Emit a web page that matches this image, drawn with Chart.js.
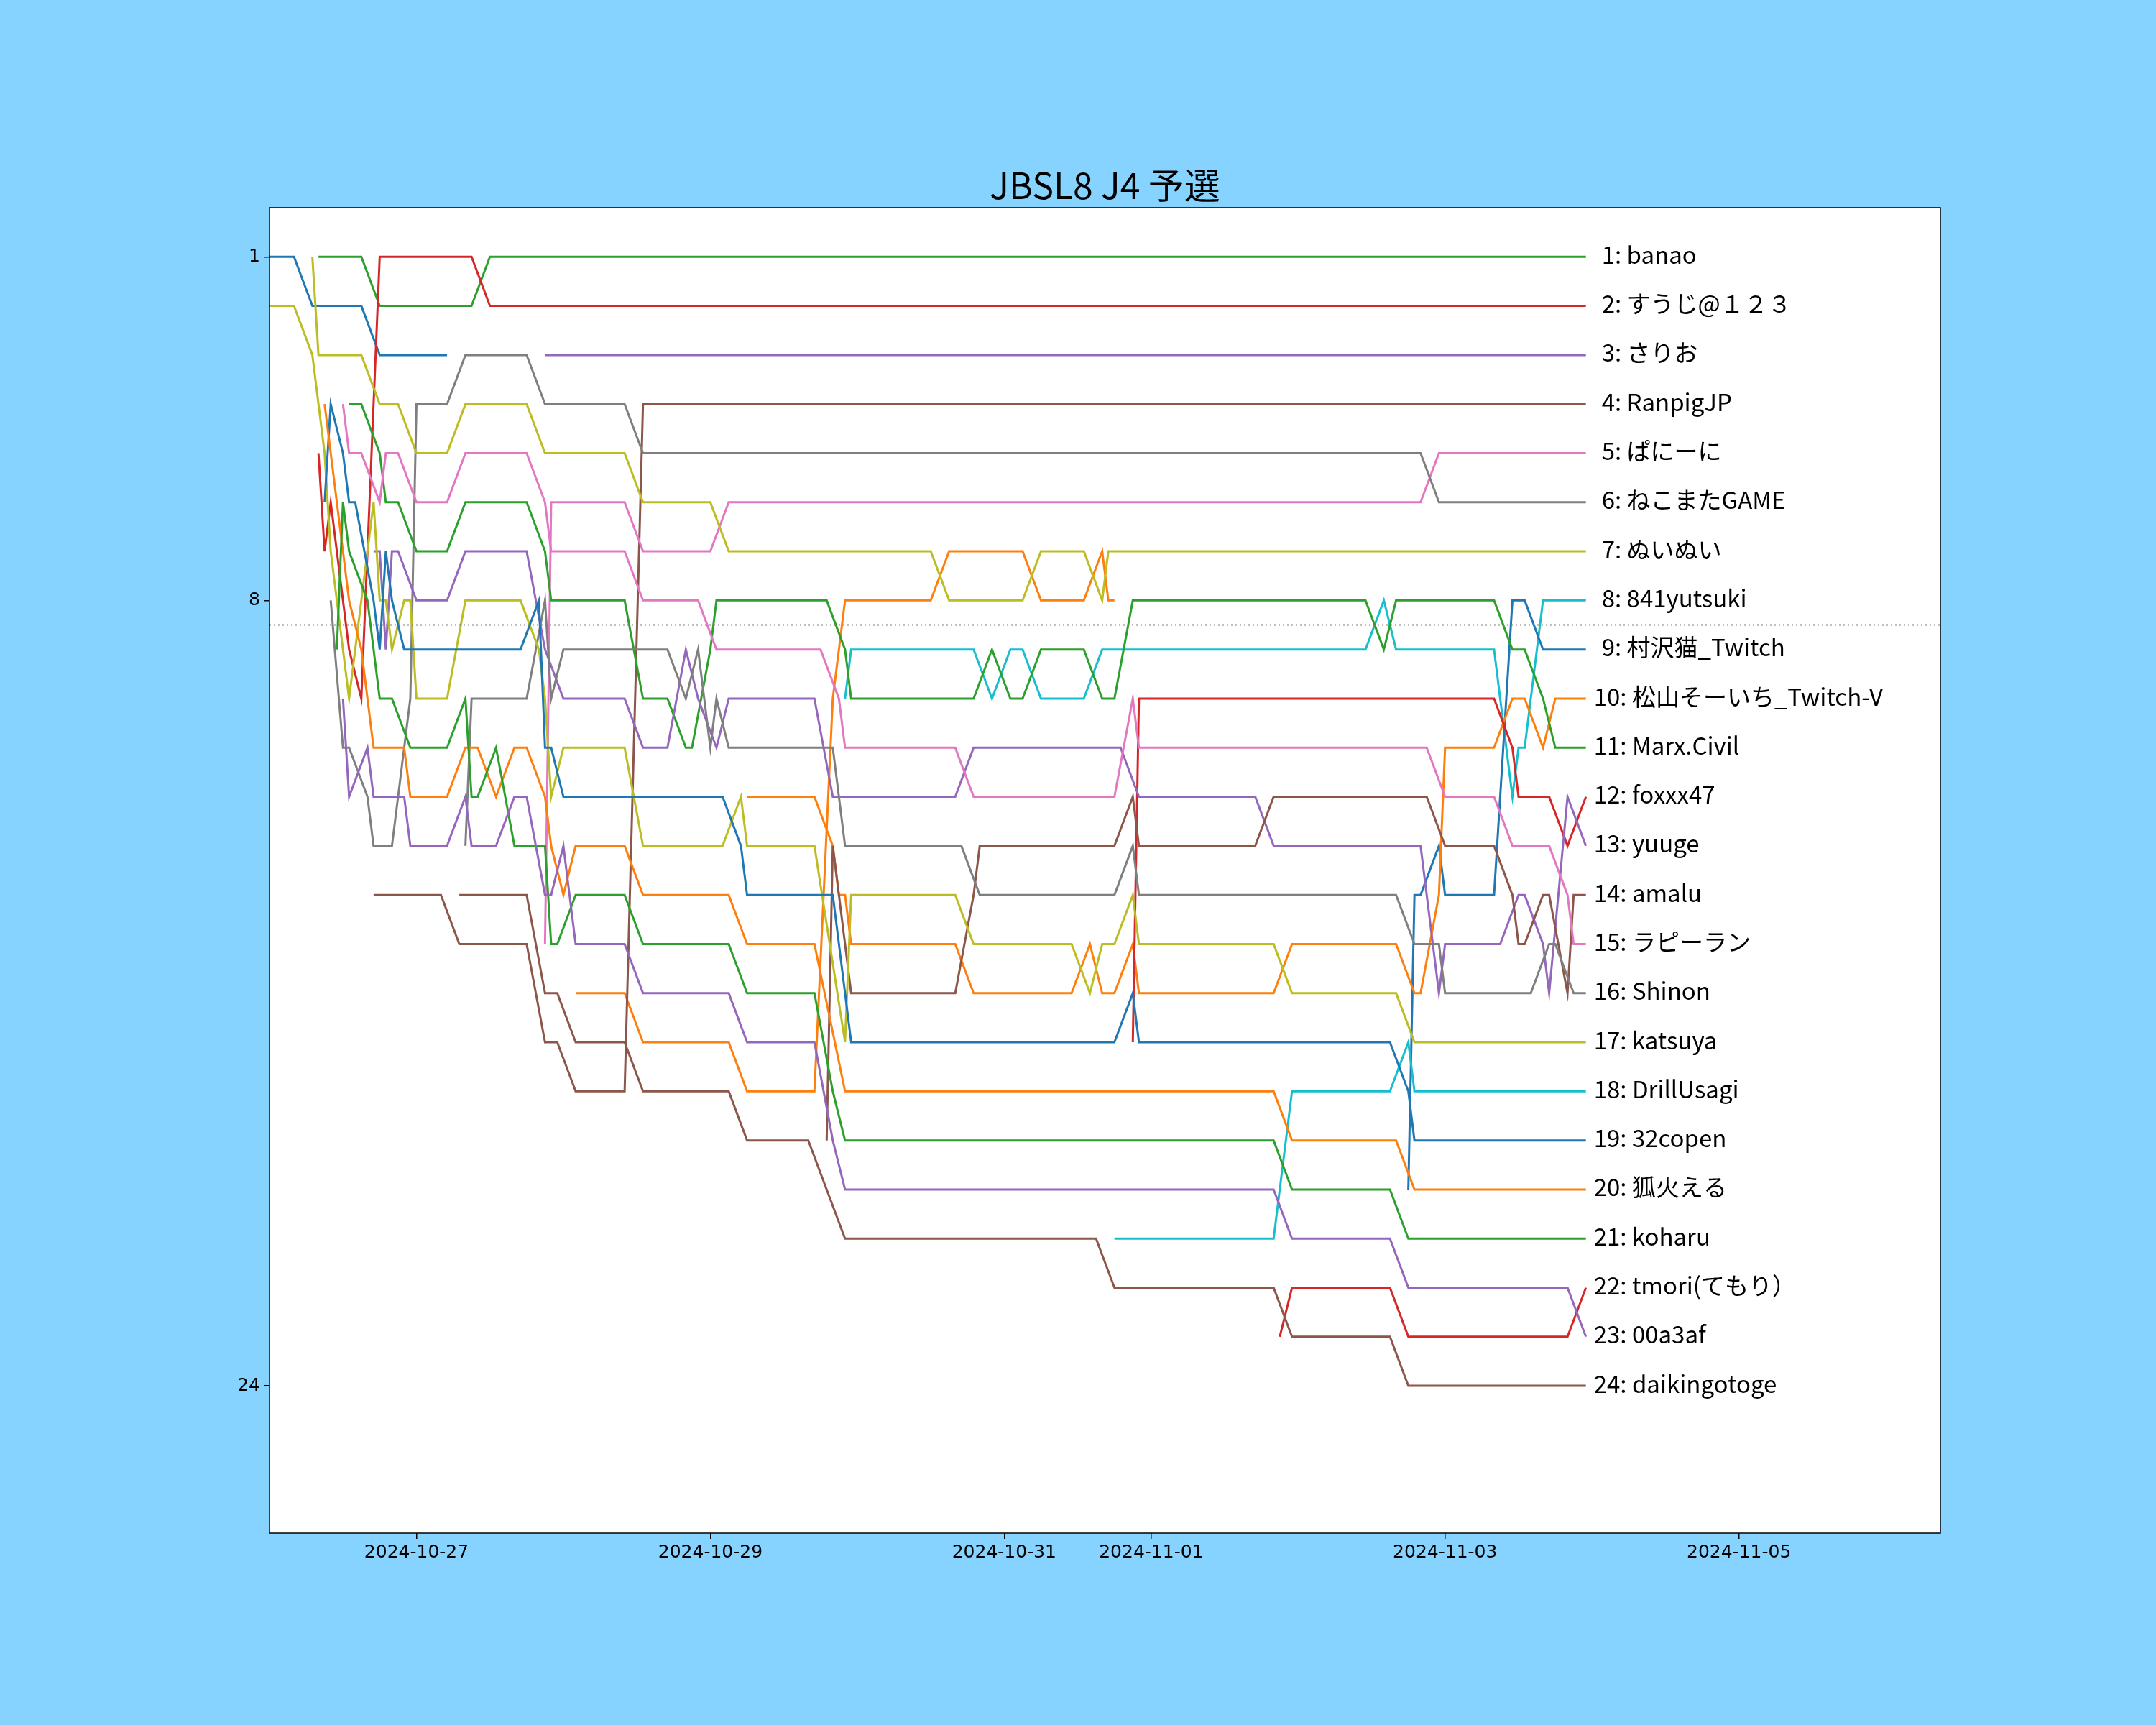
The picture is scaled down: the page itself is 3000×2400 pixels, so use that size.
<!DOCTYPE html>
<html>
<head>
<meta charset="utf-8">
<title>JBSL8 J4 予選</title>
<script src="https://cdn.jsdelivr.net/npm/chart.js@4.4.1/dist/chart.umd.min.js"></script>
<style>
  html, body { margin: 0; padding: 0; background: #87d3ff; }
  canvas { display: block; }
</style>
</head>
<body>
<canvas id="rank-chart" width="3000" height="2400"></canvas>
<script>
// Ranking over time, x = hours since 2024-10-26 00:00, y = rank
const title = 'JBSL8 J4 予選';
const lastHour = 215;
const cutRank = 8.5;
const tickHours = [24, 72, 120, 144, 192, 240];
const tickLabels = ['2024-10-27', '2024-10-29', '2024-10-31', '2024-11-01', '2024-11-03', '2024-11-05'];
const rankTicks = [1, 8, 24];

const names = [
  'banao', 'すうじ@１２３', 'さりお', 'RanpigJP', 'ぱにーに', 'ねこまたGAME',
  'ぬいぬい', '841yutsuki', '村沢猫_Twitch', '松山そーいち_Twitch-V', 'Marx.Civil', 'foxxx47',
  'yuuge', 'amalu', 'ラピーラン', 'Shinon', 'katsuya', 'DrillUsagi',
  '32copen', '狐火える', 'koharu', 'tmori(てもり）', '00a3af', 'daikingotoge'
];

// two entries that dropped out (drawn first, no label)
const dropA = [[0,1],[4,1],[7,2],[15,2],[18,3],[29,3]];
const dropB = [[50,16],[58,16],[61,17],[75,17],[78,18],[89,18],[92,10],[94,8],[108,8],[111,7],[123,7],[126,8],[133,8],[136,7],[137,8],[138,8]];

const p01 = [[8,1],[15,1],[18,2],[33,2],[36,1],[215,1]];
const p02 = [[8,5],[9,7],[10,6],[13,9],[15,10],[18,1],[33,1],[36,2],[215,2]];
const p03 = [[45,3],[215,3]];
const p04 = [[17,14],[28,14],[31,15],[42,15],[45,17],[47,17],[50,18],[58,18],[61,4],[215,4]];
const p05 = [[45,15],[46,6],[58,6],[61,7],[72,7],[75,6],[188,6],[191,5],[215,5]];
const p06 = [[10,8],[12,11],[13,11],[16,12],[17,13],[20,13],[23,10],[24,4],[29,4],[32,3],[42,3],[45,4],[58,4],[61,5],[188,5],[191,6],[215,6]];
const p07 = [[7,1],[8,3],[15,3],[18,4],[21,4],[24,5],[29,5],[32,4],[42,4],[45,5],[58,5],[61,6],[72,6],[75,7],[108,7],[111,8],[123,8],[126,7],[133,7],[136,8],[137,7],[215,7]];
const p08 = [[94,10],[95,9],[115,9],[118,10],[121,9],[123,9],[126,10],[133,10],[136,9],[179,9],[182,8],[184,9],[200,9],[203,12],[204,11],[205,11],[208,8],[215,8]];
const p09 = [[186,20],[187,14],[188,14],[191,13],[192,14],[200,14],[203,8],[205,8],[208,9],[215,9]];
const p10 = [[78,12],[89,12],[92,13],[93,14],[94,14],[95,15],[112,15],[115,16],[131,16],[134,15],[136,16],[138,16],[141,15],[142,16],[164,16],[167,15],[184,15],[187,16],[188,16],[191,14],[192,11],[200,11],[203,10],[205,10],[208,11],[210,10],[215,10]];
const p11 = [[13,4],[15,4],[18,5],[19,6],[21,6],[24,7],[29,7],[32,6],[42,6],[45,7],[46,8],[58,8],[61,10],[65,10],[68,11],[69,11],[72,9],[73,8],[91,8],[94,9],[95,10],[115,10],[118,9],[121,10],[123,10],[126,9],[133,9],[136,10],[138,10],[141,8],[179,8],[182,9],[184,8],[200,8],[203,9],[205,9],[208,10],[210,11],[215,11]];
const p12 = [[141,17],[142,10],[200,10],[203,11],[204,12],[209,12],[212,13],[215,12]];
const p13 = [[17,7],[18,7],[19,9],[20,7],[21,7],[24,8],[29,8],[32,7],[42,7],[45,9],[48,10],[58,10],[61,11],[65,11],[68,9],[70,10],[73,11],[75,10],[89,10],[92,12],[112,12],[115,11],[139,11],[142,12],[161,12],[164,13],[188,13],[191,16],[192,15],[201,15],[204,14],[205,14],[208,15],[209,16],[212,12],[215,13]];
const p14 = [[91,19],[92,13],[95,16],[112,16],[115,14],[116,13],[138,13],[141,12],[142,13],[161,13],[164,12],[189,12],[192,13],[200,13],[203,14],[204,15],[205,15],[208,14],[209,14],[212,16],[213,14],[215,14]];
const p15 = [[12,4],[13,5],[15,5],[18,6],[19,5],[21,5],[24,6],[29,6],[32,5],[42,5],[45,6],[46,7],[58,7],[61,8],[70,8],[73,9],[90,9],[93,10],[94,11],[112,11],[115,12],[138,12],[141,10],[142,11],[189,11],[192,12],[200,12],[203,13],[209,13],[212,14],[213,15],[215,15]];
const p16 = [[32,13],[33,10],[42,10],[45,8],[46,10],[48,9],[65,9],[68,10],[70,9],[72,11],[73,10],[75,11],[92,11],[94,13],[113,13],[116,14],[138,14],[141,13],[142,14],[184,14],[187,15],[191,15],[192,16],[206,16],[209,15],[210,15],[213,16],[215,16]];
const p17 = [[0,2],[4,2],[7,3],[8,4],[9,5],[10,7],[13,10],[17,6],[18,8],[19,8],[20,9],[22,8],[23,8],[24,10],[29,10],[32,8],[41,8],[44,9],[45,10],[46,12],[48,11],[58,11],[61,13],[74,13],[77,12],[78,13],[89,13],[94,17],[95,14],[112,14],[115,15],[131,15],[134,16],[136,15],[138,15],[141,14],[142,15],[164,15],[167,16],[184,16],[187,17],[215,17]];
const p18 = [[138,21],[164,21],[167,18],[183,18],[186,17],[187,18],[215,18]];
const p19 = [[9,6],[10,4],[12,5],[13,6],[14,6],[17,8],[18,9],[19,7],[20,8],[22,9],[41,9],[44,8],[45,11],[46,11],[48,12],[74,12],[77,13],[78,14],[92,14],[95,17],[138,17],[141,16],[142,17],[183,17],[186,18],[187,19],[215,19]];
const p20 = [[9,4],[13,8],[15,9],[17,11],[22,11],[23,12],[29,12],[32,11],[34,11],[37,12],[40,11],[42,11],[45,12],[46,13],[48,14],[50,13],[58,13],[61,14],[75,14],[78,15],[89,15],[94,18],[164,18],[167,19],[184,19],[187,20],[215,20]];
const p21 = [[11,9],[12,6],[13,7],[16,8],[18,10],[20,10],[23,11],[29,11],[32,10],[33,12],[34,12],[37,11],[40,13],[45,13],[46,15],[47,15],[50,14],[58,14],[61,15],[75,15],[78,16],[89,16],[92,18],[94,19],[164,19],[167,20],[183,20],[186,21],[215,21]];
const p22 = [[165,23],[167,22],[183,22],[186,23],[212,23],[215,22]];
const p23 = [[12,10],[13,12],[16,11],[17,12],[22,12],[23,13],[29,13],[32,12],[33,13],[37,13],[40,12],[42,12],[45,14],[46,14],[48,13],[50,15],[58,15],[61,16],[75,16],[78,17],[89,17],[92,19],[94,20],[164,20],[167,21],[183,21],[186,22],[212,22],[215,23]];
const p24 = [[31,14],[42,14],[45,16],[47,16],[50,17],[58,17],[61,18],[75,18],[78,19],[88,19],[94,21],[135,21],[138,22],[164,22],[167,23],[183,23],[186,24],[215,24]];

const tracks = [dropA, dropB, p01, p02, p03, p04, p05, p06, p07, p08, p09, p10, p11, p12,
  p13, p14, p15, p16, p17, p18, p19, p20, p21, p22, p23, p24];

const tab10 = ['#1f77b4', '#ff7f0e', '#2ca02c', '#d62728', '#9467bd',
  '#8c564b', '#e377c2', '#7f7f7f', '#bcbd22', '#17becf'];

const tickFont = { family: '"DejaVu Sans", sans-serif', size: 25 };
const jpFont = '"Noto Sans CJK JP", "Noto Sans", sans-serif';

// background, cut line, labels, frame, title
const decor = {
    id: 'decor',
    beforeDraw(chart) {
        const { ctx, chartArea: a } = chart;
        ctx.save();
        ctx.fillStyle = '#87d3ff';
        ctx.fillRect(0, 0, chart.width, chart.height);
        ctx.fillStyle = '#ffffff';
        ctx.fillRect(a.left, a.top, a.right - a.left, a.bottom - a.top);
        ctx.restore();
    },
    afterDatasetsDraw(chart) {
        const { ctx, chartArea: a, scales: { x, y } } = chart;
        ctx.save();

        const cy = y.getPixelForValue(cutRank);
        ctx.strokeStyle = '#808080';
        ctx.lineWidth = 2;
        ctx.setLineDash([2, 4]);
        ctx.beginPath();
        ctx.moveTo(a.left, cy);
        ctx.lineTo(a.right, cy);
        ctx.stroke();
        ctx.setLineDash([]);

        ctx.fillStyle = '#000000';
        ctx.font = '33px ' + jpFont;
        ctx.textAlign = 'left';
        ctx.textBaseline = 'middle';
        const lx = x.getPixelForValue(lastHour) + 11;
        names.forEach((n, i) => {
            const rank = i + 1;
            const label = rank + ': ' + n;
            // single digit ranks sit half a digit to the right, as with a padded number
            const dx = rank < 10 ? 11 : 0;
            ctx.fillText(label, lx + dx, y.getPixelForValue(rank) - 3);
        });

        ctx.strokeStyle = '#000000';
        ctx.lineWidth = 1.5;
        ctx.strokeRect(a.left, a.top, a.right - a.left, a.bottom - a.top);

        ctx.font = '50px ' + jpFont;
        ctx.textAlign = 'center';
        ctx.textBaseline = 'alphabetic';
        ctx.fillText(title, (a.left + a.right) / 2, a.top - 12);
        ctx.restore();
    }
};

const datasets = tracks.map((t, i) => ({
    data: t.map(([h, r]) => ({ x: h, y: r })),
    borderColor: tab10[i % 10],
    backgroundColor: tab10[i % 10],
    borderWidth: 3,
    pointRadius: 0,
    tension: 0,
    fill: false,
    order: -i
}));

new Chart(document.getElementById('rank-chart'), {
    type: 'line',
    data: { datasets: datasets },
    options: {
        responsive: false,
        devicePixelRatio: 1,
        animation: false,
        layout: { padding: { left: 0, right: 300, top: 289, bottom: 167 } },
        plugins: {
            legend: { display: false },
            tooltip: { enabled: false },
            title: { display: false }
        },
        scales: {
            x: {
                type: 'linear',
                min: 0,
                max: 272.9,
                afterFit: (scale) => { scale.height = 100; },
                afterBuildTicks: (scale) => { scale.ticks = tickHours.map(v => ({ value: v })); },
                border: { display: false },
                grid: { drawOnChartArea: false, drawTicks: true, tickLength: 8, color: '#000000', lineWidth: 1.5 },
                ticks: {
                    autoSkip: false,
                    maxRotation: 0,
                    padding: 4,
                    color: '#000000',
                    font: tickFont,
                    callback: (value, index) => tickLabels[index]
                }
            },
            y: {
                type: 'linear',
                reverse: true,
                min: 0,
                max: 27,
                afterFit: (scale) => { scale.width = 375; },
                afterBuildTicks: (scale) => { scale.ticks = rankTicks.map(v => ({ value: v })); },
                border: { display: false },
                grid: { drawOnChartArea: false, drawTicks: true, tickLength: 8, color: '#000000', lineWidth: 1.5 },
                ticks: {
                    padding: 5,
                    color: '#000000',
                    font: tickFont,
                    callback: (value) => String(value)
                }
            }
        }
    },
    plugins: [decor]
});
</script>
</body>
</html>
